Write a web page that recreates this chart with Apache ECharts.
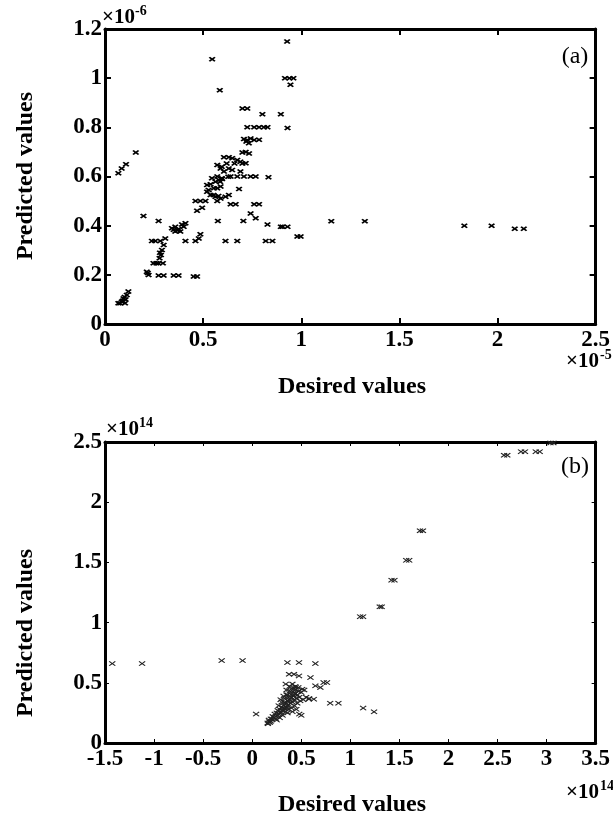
<!DOCTYPE html>
<html><head><meta charset="utf-8">
<script src="https://cdn.jsdelivr.net/npm/echarts@6/dist/echarts.min.js"></script>
<style>html,body{margin:0;padding:0;background:#fff}#c{width:613px;height:821px}</style>
</head><body><div id="c"></div>
<script>
// Panel (a): desired (x, units of 1e-5) vs predicted (y, units of 1e-6)
const desiredA = [
0.546,0.585,0.700,0.725,0.802,0.896,0.928,0.917,0.940,0.960,
0.945,0.725,0.760,0.785,0.810,0.828,0.930,0.708,0.725,0.742,
0.760,0.733,0.785,0.720,0.157,0.700,0.717,0.734,0.606,0.631,
0.648,0.674,0.690,0.717,0.700,0.660,0.107,0.085,0.068,0.572,
0.589,0.606,0.631,0.648,0.690,0.620,0.595,0.572,0.640,0.674,
0.708,0.742,0.768,0.833,0.595,0.628,0.563,0.580,0.597,0.520,
0.538,0.555,0.572,0.589,0.545,0.587,0.528,0.683,0.520,0.538,
0.563,0.589,0.614,0.631,0.553,0.578,0.461,0.486,0.512,0.572,
0.640,0.666,0.760,0.785,0.469,0.495,0.742,0.768,0.196,0.273,
0.575,0.705,0.828,0.896,0.905,0.930,0.980,0.997,1.153,1.324,
1.831,1.970,2.088,2.134,0.341,0.358,0.375,0.384,0.401,0.358,
0.392,0.370,0.350,0.410,0.239,0.256,0.282,0.307,0.410,0.461,
0.478,0.486,0.614,0.674,0.819,0.853,0.299,0.290,0.285,0.278,
0.247,0.262,0.273,0.295,0.280,0.213,0.222,0.218,0.273,0.299,
0.350,0.375,0.452,0.469,0.068,0.085,0.094,0.111,0.119,0.102,
0.077,0.090,0.100,0.105];
const predictedA = [
1.077,0.951,0.877,0.877,0.853,0.853,1.149,1.000,1.000,1.000,
0.973,0.800,0.800,0.800,0.800,0.800,0.797,0.753,0.748,0.755,
0.748,0.735,0.749,0.742,0.698,0.698,0.700,0.694,0.678,0.678,
0.674,0.667,0.660,0.654,0.653,0.653,0.650,0.633,0.613,0.647,
0.633,0.620,0.633,0.626,0.620,0.653,0.640,0.600,0.600,0.600,
0.600,0.600,0.600,0.597,0.593,0.599,0.579,0.586,0.590,0.565,
0.568,0.552,0.552,0.559,0.593,0.579,0.545,0.549,0.538,0.525,
0.518,0.511,0.518,0.525,0.525,0.521,0.500,0.500,0.500,0.500,
0.487,0.487,0.487,0.487,0.461,0.473,0.450,0.430,0.439,0.419,
0.419,0.419,0.405,0.396,0.396,0.396,0.356,0.356,0.418,0.418,
0.400,0.400,0.387,0.387,0.389,0.396,0.386,0.376,0.396,0.376,
0.405,0.380,0.383,0.410,0.338,0.338,0.338,0.348,0.338,0.338,
0.348,0.365,0.338,0.338,0.338,0.338,0.321,0.301,0.281,0.267,
0.247,0.247,0.247,0.247,0.290,0.213,0.199,0.207,0.197,0.197,
0.197,0.197,0.193,0.193,0.084,0.091,0.104,0.118,0.132,0.084,
0.084,0.095,0.110,0.100];

// Panel (b): desired (x, units of 1e14) vs predicted (y, units of 1e14)
const desiredB = [
-1.426,-1.122,-0.311,-0.098,0.359,0.477,0.644,0.376,0.426,0.477,
0.594,0.644,0.695,0.728,0.762,0.342,0.443,0.510,0.577,0.628,
0.795,0.879,1.131,1.242,0.040,0.174,0.190,0.158,
1.100,1.130,1.300,1.320,1.420,1.450,1.570,1.600,1.710,1.740,
2.567,2.600,2.740,2.780,2.890,2.930,3.040,3.070,
0.16,0.18,0.17,0.19,0.20,0.21,0.22,0.23,0.24,0.25,
0.26,0.27,0.28,0.29,0.30,0.31,0.32,0.33,0.34,0.35,
0.36,0.37,0.38,0.39,0.40,0.41,0.42,0.43,0.44,0.45,
0.46,0.47,0.48,0.30,0.33,0.36,0.39,0.42,0.35,0.38,
0.41,0.44,0.47,0.27,0.29,0.32,0.34,0.37,0.40,0.43,
0.46,0.49,0.52,0.31,0.28,0.25,0.36,0.41,0.45,0.48,
0.50,0.55,0.58,0.50,0.53,0.38,0.44,0.40,0.37,0.43,
0.24,0.26,0.29,0.31,0.34,0.36,0.39,0.33,0.35,0.42];
const predictedB = [
0.660,0.660,0.685,0.685,0.668,0.668,0.660,0.571,0.571,0.557,
0.543,0.475,0.461,0.502,0.502,0.489,0.461,0.447,0.364,0.364,
0.331,0.331,0.290,0.259,0.240,0.177,0.200,0.167,
1.049,1.049,1.131,1.131,1.352,1.352,1.517,1.517,1.763,1.763,
2.390,2.390,2.420,2.420,2.420,2.420,2.492,2.492,
0.16,0.17,0.19,0.18,0.20,0.22,0.21,0.24,0.22,0.25,
0.27,0.24,0.28,0.26,0.30,0.27,0.31,0.29,0.33,0.30,
0.35,0.32,0.36,0.33,0.38,0.34,0.39,0.36,0.41,0.37,
0.40,0.43,0.38,0.34,0.37,0.40,0.43,0.46,0.44,0.47,
0.49,0.47,0.46,0.31,0.36,0.39,0.26,0.28,0.29,0.31,
0.33,0.35,0.36,0.23,0.21,0.19,0.25,0.26,0.28,0.24,
0.23,0.38,0.37,0.42,0.44,0.41,0.44,0.45,0.38,0.42,
0.20,0.23,0.25,0.29,0.28,0.31,0.35,0.34,0.40,0.40];

// Tick labels
const xTicksA = [0, 0.5, 1, 1.5, 2, 2.5];
const yTicksA = [0, 0.2, 0.4, 0.6, 0.8, 1, 1.2];
const xTicksB = [-1.5, -1, -0.5, 0, 0.5, 1, 1.5, 2, 2.5, 3, 3.5];
const yTicksB = [0, 0.5, 1, 1.5, 2, 2.5];

const FONT = '"Liberation Serif", "Times New Roman", serif';
const pairs = (xs, ys) => xs.map((v, i) => [v, ys[i]]);
const range = t => ({ min: t[0], max: t[t.length - 1], interval: t[1] - t[0] });

function axis(kind, grid, ticks, pos, showLabel, lw, tw, tl) {
  return Object.assign({
    type: 'value', gridIndex: grid, position: pos,
    splitLine: { show: false },
    axisLine: { show: true, onZero: false, lineStyle: { color: '#000', width: lw } },
    axisTick: { show: true, inside: true, length: tl, lineStyle: { color: '#000', width: tw } },
    axisLabel: {
      show: showLabel, color: '#000', fontFamily: FONT, fontWeight: 'bold', fontSize: 23,
      margin: kind === 'x' ? 5 : 3, showMinLabel: true, showMaxLabel: true
    }
  }, range(ticks));
}

const cross = 'path://M0,2L2,0L5,3L8,0L10,2L7,5L10,8L8,10L5,7L2,10L0,8L3,5Z';
const crossThin = 'path://M0,1.3L1.3,0L5,3.7L8.7,0L10,1.3L6.3,5L10,8.7L8.7,10L5,6.3L1.3,10L0,8.7L3.7,5Z';

function txt(x, y, text, size, bold, align, rot) {
  return {
    type: 'text', x: x, y: y, rotation: rot || 0, silent: true,
    style: {
      text: text, fill: '#000',
      font: (bold ? 'bold ' : '') + size + 'px ' + FONT,
      textAlign: align || 'left', textVerticalAlign: 'middle'
    }
  };
}

const chart = echarts.init(document.getElementById('c'), null, { renderer: 'canvas' });
chart.setOption({
  animation: false,
  backgroundColor: '#fff',
  grid: [
    { left: 105, top: 29, width: 497, height: 295, containLabel: false },
    { left: 105, top: 442, width: 497, height: 301, containLabel: false }
  ],
  xAxis: [
    axis('x', 0, xTicksA, 'bottom', true, 3, 2, 6),
    axis('x', 0, xTicksA, 'top', false, 3, 2, 6),
    axis('x', 1, xTicksB, 'bottom', true, 3, 1, 4),
    axis('x', 1, xTicksB, 'top', false, 3, 1, 4)
  ],
  yAxis: [
    axis('y', 0, yTicksA, 'left', true, 3, 2, 6),
    axis('y', 0, yTicksA, 'right', false, 3, 2, 6),
    axis('y', 1, yTicksB, 'left', true, 3, 1, 4),
    axis('y', 1, yTicksB, 'right', false, 3, 1, 4)
  ],
  series: [
    {
      type: 'scatter', xAxisIndex: 0, yAxisIndex: 0,
      data: pairs(desiredA, predictedA),
      symbol: cross, symbolSize: [7, 5],
      itemStyle: { color: '#000', opacity: 1 }, silent: true
    },
    {
      type: 'scatter', xAxisIndex: 2, yAxisIndex: 2,
      data: pairs(desiredB, predictedB),
      symbol: crossThin, symbolSize: [7, 5],
      itemStyle: { color: '#222', opacity: 1 }, silent: true
    }
  ],
  graphic: [
    txt(102, 18, '×10', 21, true),
    txt(135, 11, '-6', 14, true),
    txt(566, 362, '×10', 21, true),
    txt(600, 355, '-5', 14, true),
    txt(352, 387, 'Desired values', 24, true, 'center'),
    txt(26, 176, 'Predicted values', 24, true, 'center', Math.PI / 2),
    txt(575, 57, '(a)', 24, false, 'center'),
    txt(106, 430, '×10', 21, true),
    txt(139, 423, '14', 14, true),
    txt(575, 467, '(b)', 24, false, 'center'),
    txt(26, 633, 'Predicted values', 24, true, 'center', Math.PI / 2),
    txt(566, 793, '×10', 21, true),
    txt(600, 786, '14', 14, true),
    txt(352, 805, 'Desired values', 24, true, 'center')
  ]
});
</script>
</body></html>
